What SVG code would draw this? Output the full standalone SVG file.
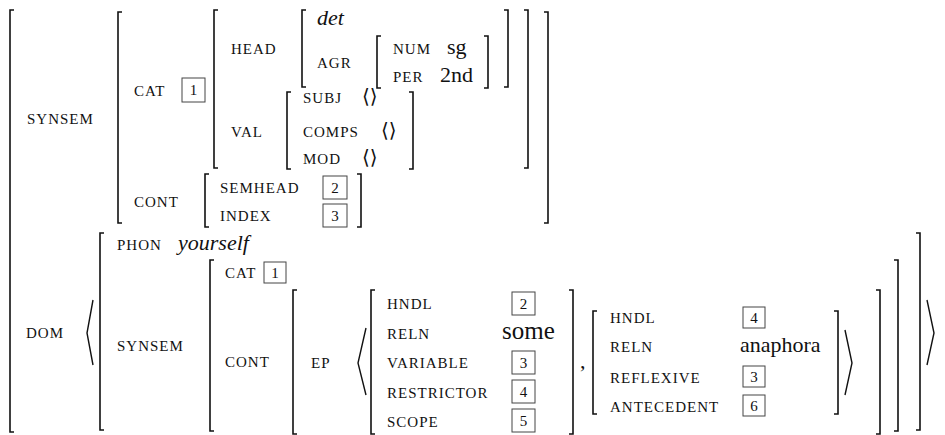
<svg xmlns="http://www.w3.org/2000/svg" width="945" height="435" viewBox="0 0 945 435">
  <style>
    .br { fill: none; stroke: #111; stroke-width: 1.6; }
    .ang { fill: none; stroke: #111; stroke-width: 1.4; stroke-linejoin: miter; }
    .f { font-family: "Liberation Serif", "Times New Roman", serif; font-size: 15px; letter-spacing: 1px; fill: #111; }
    .v { font-family: "Liberation Serif", "Times New Roman", serif; font-size: 22px; fill: #111; }
    .big { font-size: 25px; }
    .it { font-style: italic; }
    .el { font-family: "DejaVu Serif", serif; font-size: 20px; fill: #111; }
    .tag rect { fill: none; stroke: #444; stroke-width: 1; }
    .tag text { font-family: "Liberation Serif", "Times New Roman", serif; font-size: 15px; fill: #111; text-anchor: middle; }
  </style>

  <!-- outermost matrix -->
  <g id="outer">
    <path class="br" d="M14 10 H10 V432 H14"/>
    <text class="f" x="27" y="124">SYNSEM</text>
    <text class="f" x="26" y="338">DOM</text>
  </g>

  <!-- SYNSEM value -->
  <g id="synsem">
    <path class="br" d="M122 12 H118 V223 H122"/>
    <path class="br" d="M544 12 H548 V223 H544"/>
    <text class="f" x="134" y="96">CAT</text>
    <g class="tag"><rect x="182" y="78" width="23" height="24"/><text x="193.5" y="95">1</text></g>
    <text class="f" x="134" y="207">CONT</text>
  </g>

  <!-- CAT value -->
  <g id="cat">
    <path class="br" d="M218 10 H214 V168 H218"/>
    <path class="br" d="M524 10 H528 V168 H524"/>
    <text class="f" x="231" y="54">HEAD</text>
    <text class="f" x="231" y="137">VAL</text>
  </g>

  <!-- HEAD value -->
  <g id="head">
    <path class="br" d="M306 10 H302 V87 H306"/>
    <path class="br" d="M504 10 H508 V87 H504"/>
    <text class="v it" x="317" y="25">det</text>
    <text class="f" x="317" y="68">AGR</text>
  </g>

  <!-- AGR value -->
  <g id="agr">
    <path class="br" d="M381 36 H377 V88 H381"/>
    <path class="br" d="M484 36 H488 V88 H484"/>
    <text class="f" x="393" y="54">NUM</text>
    <text class="v" x="447" y="54">sg</text>
    <text class="f" x="393" y="82">PER</text>
    <text class="v" x="440" y="82">2nd</text>
  </g>

  <!-- VAL value -->
  <g id="val">
    <path class="br" d="M291 92 H287 V169 H291"/>
    <path class="br" d="M409 92 H413 V169 H409"/>
    <text class="f" x="303" y="103">SUBJ</text>
    <text class="el" x="362" y="103">⟨⟩</text>
    <text class="f" x="303" y="137">COMPS</text>
    <text class="el" x="381" y="137">⟨⟩</text>
    <text class="f" x="303" y="164">MOD</text>
    <text class="el" x="362" y="164">⟨⟩</text>
  </g>

  <!-- CONT value -->
  <g id="cont">
    <path class="br" d="M209 174 H205 V227 H209"/>
    <path class="br" d="M357 174 H361 V227 H357"/>
    <text class="f" x="220" y="193">SEMHEAD</text>
    <g class="tag"><rect x="323" y="176" width="24" height="23"/><text x="335" y="193">2</text></g>
    <text class="f" x="220" y="221">INDEX</text>
    <g class="tag"><rect x="323" y="204" width="24" height="23"/><text x="335" y="221">3</text></g>
  </g>

  <!-- DOM list -->
  <g id="dom">
    <path class="ang" d="M93 300 L87 333 L93 365"/>
    <path class="ang" d="M927 300 L934 333 L927 365"/>
    <path class="br" d="M104 233 H100 V430 H104"/>
    <path class="br" d="M916 233 H920 V430 H916"/>
    <text class="f" x="117" y="250">PHON</text>
    <text class="v it" x="178" y="250">yourself</text>
    <text class="f" x="117" y="351">SYNSEM</text>
  </g>

  <!-- element SYNSEM value -->
  <g id="dom-synsem">
    <path class="br" d="M214 260 H210 V431 H214"/>
    <path class="br" d="M894 260 H898 V431 H894"/>
    <text class="f" x="225" y="278">CAT</text>
    <g class="tag"><rect x="264" y="262" width="22" height="21"/><text x="275" y="278">1</text></g>
    <text class="f" x="225" y="367">CONT</text>
  </g>

  <!-- element CONT value -->
  <g id="dom-cont">
    <path class="br" d="M297 290 H293 V434 H297"/>
    <path class="br" d="M876 290 H880 V434 H876"/>
    <text class="f" x="311" y="368">EP</text>
    <path class="ang" d="M366 328 L358 363 L366 395"/>
    <path class="ang" d="M845 330 L852 363 L845 395"/>
    <text class="v" x="580" y="368">,</text>
  </g>

  <!-- first EP -->
  <g id="ep-some">
    <path class="br" d="M375 290 H371 V434 H375"/>
    <path class="br" d="M569 290 H573 V434 H569"/>
    <text class="f" x="387" y="309">HNDL</text>
    <g class="tag"><rect x="512" y="292" width="23" height="23"/><text x="523.5" y="309">2</text></g>
    <text class="f" x="387" y="339">RELN</text>
    <text class="v big" x="502" y="339">some</text>
    <text class="f" x="387" y="368">VARIABLE</text>
    <g class="tag"><rect x="512" y="351" width="23" height="23"/><text x="523.5" y="368">3</text></g>
    <text class="f" x="387" y="398">RESTRICTOR</text>
    <g class="tag"><rect x="512" y="380" width="23" height="23"/><text x="523.5" y="397">4</text></g>
    <text class="f" x="387" y="427">SCOPE</text>
    <g class="tag"><rect x="512" y="409" width="23" height="23"/><text x="523.5" y="426">5</text></g>
  </g>

  <!-- second EP -->
  <g id="ep-anaphora">
    <path class="br" d="M597 311 H593 V414 H597"/>
    <path class="br" d="M834 311 H838 V414 H834"/>
    <text class="f" x="610" y="323">HNDL</text>
    <g class="tag"><rect x="743" y="307" width="22" height="21"/><text x="754" y="323">4</text></g>
    <text class="f" x="610" y="352">RELN</text>
    <text class="v" x="740" y="352">anaphora</text>
    <text class="f" x="610" y="383">REFLEXIVE</text>
    <g class="tag"><rect x="743" y="366" width="22" height="21"/><text x="754" y="382">3</text></g>
    <text class="f" x="610" y="412">ANTECEDENT</text>
    <g class="tag"><rect x="743" y="395" width="22" height="21"/><text x="754" y="411">6</text></g>
  </g>
</svg>
